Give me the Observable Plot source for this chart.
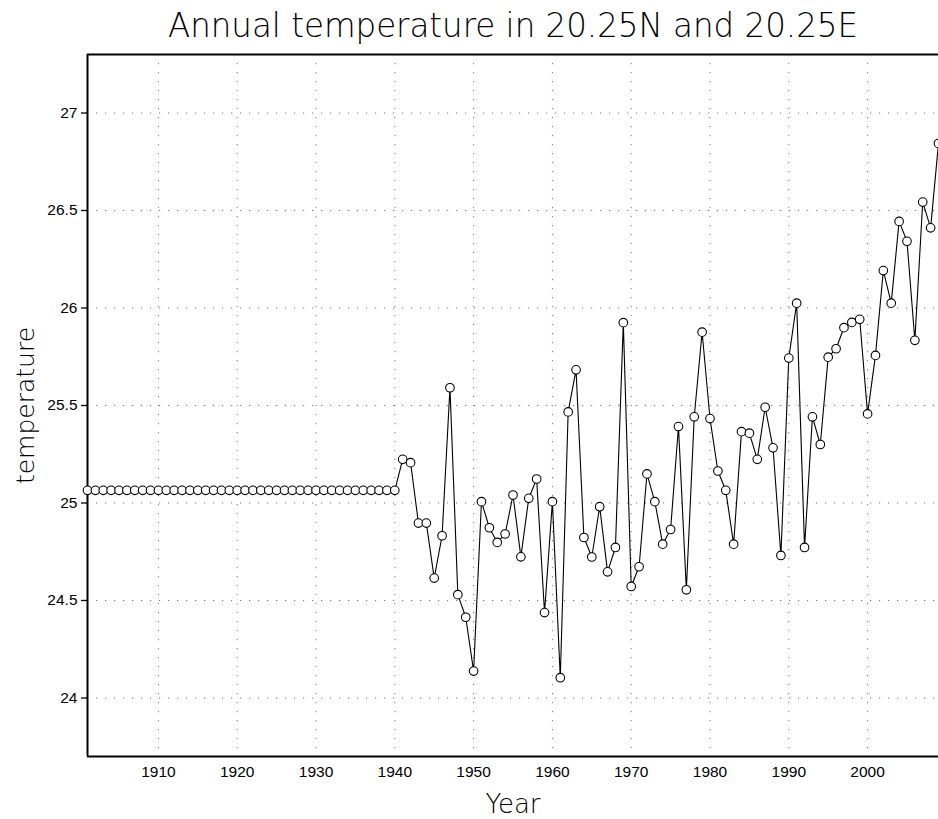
<!DOCTYPE html>
<html>
<head>
<meta charset="utf-8">
<script src="https://cdn.jsdelivr.net/npm/d3@7"></script>
<script src="https://cdn.jsdelivr.net/npm/@observablehq/plot@0.6"></script>
<style>
  html, body { margin: 0; padding: 0; background: #fff; overflow: hidden; }
</style>
</head>
<body>
<div id="chart"></div>
<script>
const titleText = "Annual temperature in 20.25N and 20.25E";
const xLabel = "Year";
const yLabel = "temperature";

const years = d3.range(1901, 2010);
// 1901-1940 constant baseline, then yearly values 1941-2009
const baseValue = 25.065;
const laterValues = [
  25.224, 25.207, 24.897, 24.897, 24.615, 24.832, 25.591, 24.530, 24.414, 24.138, // 1941-1950
  25.007, 24.873, 24.798, 24.841, 25.041, 24.724, 25.024, 25.123, 24.438, 25.007, // 1951-1960
  24.104, 25.467, 25.683, 24.823, 24.723, 24.981, 24.647, 24.772, 25.925, 24.572, // 1961-1970
  24.673, 25.149, 25.007, 24.789, 24.864, 25.392, 24.555, 25.442, 25.876, 25.433, // 1971-1980
  25.164, 25.065, 24.789, 25.366, 25.358, 25.224, 25.491, 25.283, 24.731, 25.743, // 1981-1990
  26.025, 24.772, 25.442, 25.300, 25.748, 25.791, 25.899, 25.926, 25.942, 25.457, // 1991-2000
  25.757, 26.192, 26.025, 26.444, 26.342, 25.834, 26.543, 26.411, 26.844          // 2001-2009
];
const temps = years.map((y, i) => i < 40 ? baseValue : laterValues[i - 40]);
const data = years.map((year, i) => ({year, temp: temps[i]}));

const xTicks = [1910, 1920, 1930, 1940, 1950, 1960, 1970, 1980, 1990, 2000];
const yTicks = [24, 24.5, 25, 25.5, 26, 26.5, 27];

const gridStyle = {stroke: "#777", strokeOpacity: 1, strokeWidth: 1, strokeDasharray: "1.2,7.8"};

const chart = Plot.plot({
  width: 938,
  height: 819,
  marginLeft: 87,
  marginRight: 0,
  marginTop: 54,
  marginBottom: 63,
  style: {fontFamily: "Liberation Sans, sans-serif", background: "#fff", overflow: "hidden"},
  x: {domain: [1901, 2009], axis: null, label: null},
  y: {domain: [23.7, 27.3], label: null},
  marks: [
    Plot.gridX(xTicks, gridStyle),
    Plot.gridY(yTicks, gridStyle),
    Plot.axisY(yTicks, {tickSize: 6, tickFormat: () => "", strokeWidth: 1.3, label: null, stroke: "#000"}),
    Plot.text(xTicks, {x: d => d, frameAnchor: "bottom", lineAnchor: "middle", dy: 16, text: d => String(d), fontSize: 15.5, fontFamily: "Liberation Sans", fill: "#000"}),
    Plot.text(yTicks, {y: d => d, frameAnchor: "left", textAnchor: "end", dx: -10, text: d => String(d), fontSize: 15.5, fontFamily: "Liberation Sans", fill: "#000"}),
    Plot.ruleX([1901], {stroke: "#000", strokeWidth: 2}),
    Plot.ruleY([23.7], {stroke: "#000", strokeWidth: 2}),
    Plot.ruleY([27.3], {stroke: "#000", strokeWidth: 2}),
    Plot.line(data, {x: "year", y: "temp", stroke: "#000", strokeWidth: 1.1}),
    Plot.dot(data, {x: "year", y: "temp", r: 4.3, fill: "#fff", stroke: "#000", strokeWidth: 1.1}),
    Plot.text([titleText], {frameAnchor: "top", lineAnchor: "middle", dy: -28, fontSize: 33, fontFamily: "DejaVu Sans", fontWeight: 200, fill: "#000", className: "ttl"}),
    Plot.text([xLabel], {frameAnchor: "bottom", lineAnchor: "middle", dy: 48, fontSize: 26, fontFamily: "DejaVu Sans", fontWeight: 200, fill: "#000"}),
    Plot.text([yLabel], {frameAnchor: "left", textAnchor: "middle", lineAnchor: "middle", dx: -62, rotate: -90, fontSize: 25, fontFamily: "DejaVu Sans", fontWeight: 200, fill: "#000"})
  ]
});
document.getElementById("chart").appendChild(chart);
d3.select(chart).selectAll("g.ttl text").attr("textLength", 690).attr("lengthAdjust", "spacingAndGlyphs");
</script>
</body>
</html>
